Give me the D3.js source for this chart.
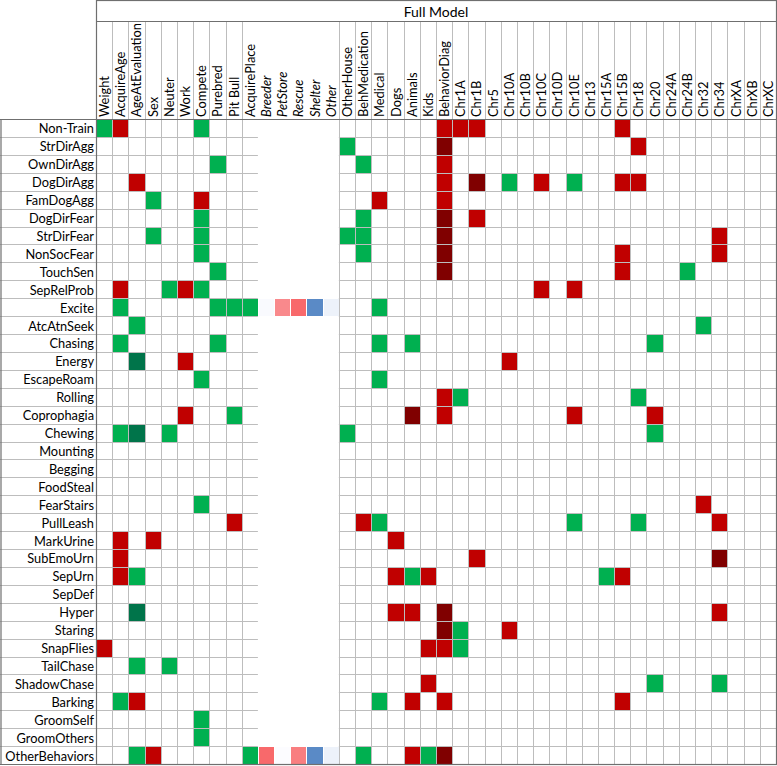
<!DOCTYPE html>
<html>
<head>
<meta charset="utf-8">
<script src="https://cdn.jsdelivr.net/npm/d3@7"></script>
<style>
  body { margin: 0; background: #fff; }
  text { font-family: Lato, "Open Sans", sans-serif; fill: #000; }
</style>
</head>
<body>
<div id="grid"></div>
<script>
const behaviors = ["Non-Train", "StrDirAgg", "OwnDirAgg", "DogDirAgg", "FamDogAgg", "DogDirFear",
  "StrDirFear", "NonSocFear", "TouchSen", "SepRelProb", "Excite", "AtcAtnSeek", "Chasing", "Energy",
  "EscapeRoam", "Rolling", "Coprophagia", "Chewing", "Mounting", "Begging", "FoodSteal", "FearStairs",
  "PullLeash", "MarkUrine", "SubEmoUrn", "SepUrn", "SepDef", "Hyper", "Staring", "SnapFlies",
  "TailChase", "ShadowChase", "Barking", "GroomSelf", "GroomOthers", "OtherBehaviors"];

const factors = ["Weight", "AcquireAge", "AgeAtEvaluation", "Sex", "Neuter", "Work", "Compete",
  "Purebred", "Pit Bull", "AcquirePlace", "Breeder", "PetStore", "Rescue", "Shelter", "Other",
  "OtherHouse", "BehMedication", "Medical", "Dogs", "Animals", "Kids", "BehaviorDiag", "Chr1A",
  "Chr1B", "Chr5", "Chr10A", "Chr10B", "Chr10C", "Chr10D", "Chr10E", "Chr13", "Chr15A", "Chr15B",
  "Chr18", "Chr20", "Chr24A", "Chr24B", "Chr32", "Chr34", "ChrXA", "ChrXB", "ChrXC"];

// levels of acquire place, drawn without grid lines and in italics
const placeLevels = ["Breeder", "PetStore", "Rescue", "Shelter", "Other"];

// significant effects: green = positive, red = negative, dark = stronger
const greenCells = [
  ["Non-Train", "Weight"], ["Non-Train", "Compete"],
  ["StrDirAgg", "OtherHouse"],
  ["OwnDirAgg", "Purebred"], ["OwnDirAgg", "BehMedication"],
  ["DogDirAgg", "Chr10A"], ["DogDirAgg", "Chr10E"],
  ["FamDogAgg", "Sex"],
  ["DogDirFear", "Compete"], ["DogDirFear", "BehMedication"],
  ["StrDirFear", "Sex"], ["StrDirFear", "Compete"], ["StrDirFear", "OtherHouse"], ["StrDirFear", "BehMedication"],
  ["NonSocFear", "Compete"], ["NonSocFear", "BehMedication"],
  ["TouchSen", "Purebred"], ["TouchSen", "Chr24B"],
  ["SepRelProb", "Neuter"], ["SepRelProb", "Compete"],
  ["Excite", "AcquireAge"], ["Excite", "Purebred"], ["Excite", "Pit Bull"], ["Excite", "AcquirePlace"], ["Excite", "Medical"],
  ["AtcAtnSeek", "AgeAtEvaluation"], ["AtcAtnSeek", "Chr32"],
  ["Chasing", "AcquireAge"], ["Chasing", "Purebred"], ["Chasing", "Medical"], ["Chasing", "Animals"], ["Chasing", "Chr20"],
  ["EscapeRoam", "Compete"], ["EscapeRoam", "Medical"],
  ["Rolling", "Chr1A"], ["Rolling", "Chr18"],
  ["Coprophagia", "Pit Bull"],
  ["Chewing", "AcquireAge"], ["Chewing", "Neuter"], ["Chewing", "OtherHouse"], ["Chewing", "Chr20"],
  ["FearStairs", "Compete"],
  ["PullLeash", "Medical"], ["PullLeash", "Chr10E"], ["PullLeash", "Chr18"],
  ["SepUrn", "AgeAtEvaluation"], ["SepUrn", "Animals"], ["SepUrn", "Chr15A"],
  ["Staring", "Chr1A"],
  ["SnapFlies", "Chr1A"],
  ["TailChase", "AgeAtEvaluation"], ["TailChase", "Neuter"],
  ["ShadowChase", "Chr20"], ["ShadowChase", "Chr34"],
  ["Barking", "AcquireAge"], ["Barking", "Medical"],
  ["GroomSelf", "Compete"], ["GroomOthers", "Compete"],
  ["OtherBehaviors", "AgeAtEvaluation"], ["OtherBehaviors", "AcquirePlace"], ["OtherBehaviors", "BehMedication"], ["OtherBehaviors", "Kids"]
];
const darkGreenCells = [
  ["Energy", "AgeAtEvaluation"], ["Chewing", "AgeAtEvaluation"], ["Hyper", "AgeAtEvaluation"]
];
const redCells = [
  ["Non-Train", "AcquireAge"], ["Non-Train", "BehaviorDiag"], ["Non-Train", "Chr1A"], ["Non-Train", "Chr1B"], ["Non-Train", "Chr15B"],
  ["StrDirAgg", "Chr18"],
  ["OwnDirAgg", "BehaviorDiag"],
  ["DogDirAgg", "AgeAtEvaluation"], ["DogDirAgg", "BehaviorDiag"], ["DogDirAgg", "Chr10C"], ["DogDirAgg", "Chr15B"], ["DogDirAgg", "Chr18"],
  ["FamDogAgg", "Compete"], ["FamDogAgg", "Medical"], ["FamDogAgg", "BehaviorDiag"],
  ["DogDirFear", "Chr1B"],
  ["StrDirFear", "Chr34"],
  ["NonSocFear", "Chr15B"], ["NonSocFear", "Chr34"],
  ["TouchSen", "Chr15B"],
  ["SepRelProb", "AcquireAge"], ["SepRelProb", "Work"], ["SepRelProb", "Chr10C"], ["SepRelProb", "Chr10E"],
  ["Energy", "Work"], ["Energy", "Chr10A"],
  ["Rolling", "BehaviorDiag"],
  ["Coprophagia", "Work"], ["Coprophagia", "BehaviorDiag"], ["Coprophagia", "Chr10E"], ["Coprophagia", "Chr20"],
  ["FearStairs", "Chr32"],
  ["PullLeash", "Pit Bull"], ["PullLeash", "BehMedication"], ["PullLeash", "Chr34"],
  ["MarkUrine", "AcquireAge"], ["MarkUrine", "Sex"], ["MarkUrine", "Dogs"],
  ["SubEmoUrn", "AcquireAge"], ["SubEmoUrn", "Chr1B"],
  ["SepUrn", "AcquireAge"], ["SepUrn", "Dogs"], ["SepUrn", "Kids"], ["SepUrn", "Chr15B"],
  ["Hyper", "Dogs"], ["Hyper", "Animals"], ["Hyper", "Chr34"],
  ["Staring", "Chr10A"],
  ["SnapFlies", "Weight"], ["SnapFlies", "Kids"], ["SnapFlies", "BehaviorDiag"],
  ["ShadowChase", "Kids"],
  ["Barking", "AgeAtEvaluation"], ["Barking", "Animals"], ["Barking", "BehaviorDiag"], ["Barking", "Chr15B"],
  ["OtherBehaviors", "Sex"], ["OtherBehaviors", "Animals"]
];
const darkRedCells = [
  ["StrDirAgg", "BehaviorDiag"], ["DogDirAgg", "Chr1B"], ["DogDirFear", "BehaviorDiag"],
  ["StrDirFear", "BehaviorDiag"], ["NonSocFear", "BehaviorDiag"], ["TouchSen", "BehaviorDiag"],
  ["Coprophagia", "Animals"], ["SubEmoUrn", "Chr34"], ["Hyper", "BehaviorDiag"],
  ["Staring", "BehaviorDiag"], ["OtherBehaviors", "BehaviorDiag"]
];
// relative effect of each acquire place level (red = higher, blue = lower)
const placeExcite = [-0.02, 0.78, 1.0, -1.0, -0.09];
const placeOther = [1.0, 0.0, 0.86, -1.0, -0.09];

const W = 777, H = 766;
const gLeft = 96, gRight = 776, gTop = 119, gBottom = 764, titleH = 21;

const svg = d3.select("#grid").append("svg")
  .attr("width", W).attr("height", H);

const x = d3.scaleBand().domain(factors).range([gLeft, gRight]);
const y = d3.scaleBand().domain(behaviors).range([gTop, gBottom]);
const placeColor = d3.scaleLinear().domain([-1, 0, 1])
  .range(["#5a8ac6", "#fcfcff", "#f8696b"]);

const cells = [].concat(
  greenCells.map(d => ({ b: d[0], f: d[1], c: "#00b050" })),
  darkGreenCells.map(d => ({ b: d[0], f: d[1], c: "#00744a" })),
  redCells.map(d => ({ b: d[0], f: d[1], c: "#c00000" })),
  darkRedCells.map(d => ({ b: d[0], f: d[1], c: "#800000" })),
  placeLevels.map((p, i) => ({ b: "Excite", f: p, c: placeColor(placeExcite[i]) })),
  placeLevels.map((p, i) => ({ b: "OtherBehaviors", f: p, c: placeColor(placeOther[i]) }))
);

// grid lines
const gridG = svg.append("g").attr("stroke", "#bdbdbd").attr("stroke-width", 1);
const blockL = x("Breeder"), blockR = x("Other") + x.bandwidth();

behaviors.slice(1).forEach(b => {
  const yy = Math.round(y(b)) + 0.5;
  gridG.append("line").attr("x1", 0).attr("x2", blockL).attr("y1", yy).attr("y2", yy);
  gridG.append("line").attr("x1", blockR).attr("x2", gRight).attr("y1", yy).attr("y2", yy);
});
factors.slice(1).forEach(f => {
  if (placeLevels.includes(f)) return;
  const xx = Math.round(x(f)) + 0.5;
  gridG.append("line").attr("x1", xx).attr("x2", xx).attr("y1", titleH).attr("y2", gBottom);
});

// coloured cells
svg.append("g").selectAll("rect")
  .data(cells)
  .join("rect")
  .attr("x", d => Math.round(x(d.f)) + 1)
  .attr("y", d => Math.round(y(d.b)) + 1)
  .attr("width", d => Math.round(x(d.f) + x.bandwidth()) - Math.round(x(d.f)) - 1)
  .attr("height", d => Math.round(y(d.b) + y.bandwidth()) - Math.round(y(d.b)) - 1)
  .attr("fill", d => d.c);

// outer borders
const borderG = svg.append("g").attr("stroke", "#6f6f6f").attr("stroke-width", 1.2).attr("fill", "none");
borderG.append("rect").attr("x", gLeft + 0.5).attr("y", 0.5).attr("width", gRight - gLeft).attr("height", gBottom);
borderG.append("line").attr("x1", gLeft).attr("x2", gRight).attr("y1", titleH + 0.5).attr("y2", titleH + 0.5);
borderG.append("line").attr("x1", 0).attr("x2", gRight).attr("y1", gTop + 0.5).attr("y2", gTop + 0.5);
borderG.append("line").attr("x1", 0).attr("x2", gRight).attr("y1", gBottom + 0.5).attr("y2", gBottom + 0.5);
borderG.append("line").attr("x1", 1).attr("x2", 1).attr("y1", gTop).attr("y2", gBottom + 1);

// title
svg.append("text")
  .attr("x", (gLeft + gRight) / 2).attr("y", titleH / 2 + 1)
  .attr("text-anchor", "middle").attr("dominant-baseline", "central")
  .style("font-size", "14px")
  .text("Full Model");

// column labels
svg.append("g").selectAll("text")
  .data(factors)
  .join("text")
  .attr("transform", d => `translate(${x(d) + x.bandwidth() / 2 + 5},${gTop - 2}) rotate(-90)`)
  .style("font-size", "12.9px")
  .style("font-style", d => placeLevels.includes(d) ? "italic" : "normal")
  .text(d => d);

// row labels
svg.append("g").selectAll("text")
  .data(behaviors)
  .join("text")
  .attr("x", gLeft - 2)
  .attr("y", d => y(d) + y.bandwidth() / 2 + 0.5)
  .attr("text-anchor", "end").attr("dominant-baseline", "central")
  .style("font-size", "12.8px")
  .text(d => d);
</script>
</body>
</html>
